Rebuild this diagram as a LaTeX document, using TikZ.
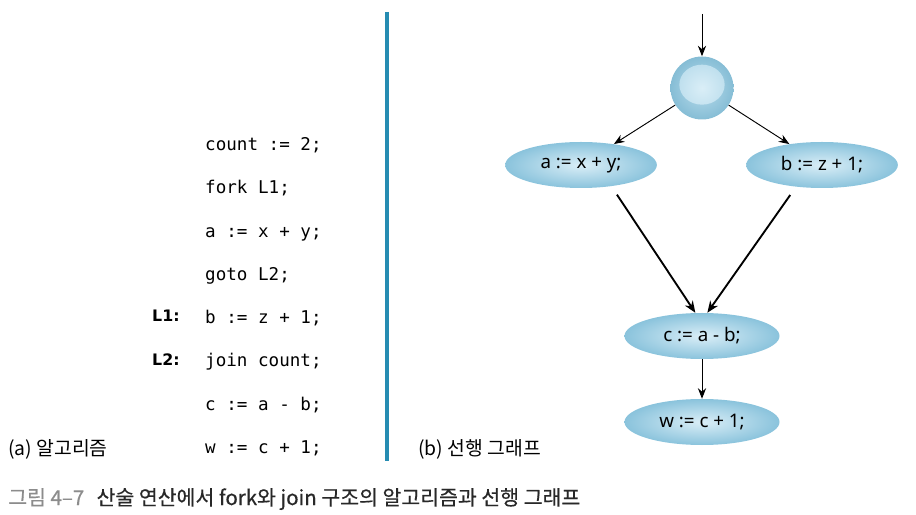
\documentclass[tikz,border=0pt]{standalone}
\usepackage{fontspec}
\setmonofont{DejaVu Sans Mono}
\setsansfont{Noto Sans}
\newfontfamily\krfont{Noto Sans CJK KR}
\newfontfamily\krmed{Noto Sans CJK KR}[FakeBold=0.5]
\newfontfamily\lblfont{DejaVu Sans}
\usetikzlibrary{shapes.geometric,arrows.meta}
\definecolor{divline}{RGB}{38,140,178}
\definecolor{bubin}{RGB}{218,238,247}
\definecolor{bubout}{RGB}{138,195,220}
\definecolor{capgray}{RGB}{140,140,140}
\definecolor{captext}{RGB}{40,40,40}
\tikzset{
	codeline/.style={anchor=base west,inner sep=0pt,font=\ttfamily\fontsize{15}{18}\selectfont},
	lbl/.style={anchor=base west,inner sep=0pt,font=\lblfont\bfseries\fontsize{13.5}{16}\selectfont},
	krlabel/.style={anchor=base west,inner sep=0pt,font=\krfont\fontsize{16.5}{19}\selectfont},
	stmt/.style={ellipse,inner sep=0pt,minimum width=4.55cm,minimum height=1.38cm,
		inner color=bubin,outer color=bubout,font=\sffamily\fontsize{16}{18}\selectfont},
	forknode/.style={circle,minimum size=1.89cm,inner sep=0pt,inner color=bubin!60!bubout,outer color=bubout!97!black,
		path picture={\shade[inner color=bubin,outer color=bubin!55!bubout] ([yshift=0.1cm]path picture bounding box.center) ellipse (0.68cm and 0.6cm);}},
	thinarr/.style={-{Stealth[length=9pt,width=7pt]},line width=0.8pt},
	thickarr/.style={-{Stealth[length=10pt,width=8pt]},line width=1.6pt,shorten <=0.3cm}
}
\begin{document}
\begin{tikzpicture}[x=0.03cm,y=-0.03cm]
		\useasboundingbox (0,0) rectangle (916,515);

		%algorithm
		\node[codeline] (l1) at (205,151) {count := 2;};
		\node[codeline] (l2) at (205,194) {fork L1;};
		\node[codeline] (l3) at (205,238) {a := x + y;};
		\node[codeline] (l4) at (205,281) {goto L2;};
		\node[codeline] (l5) at (205,324) {b := z + 1;};
		\node[codeline] (l6) at (205,367) {join count;};
		\node[codeline] (l7) at (205,411) {c := a - b;};
		\node[codeline] (l8) at (205,454) {w := c + 1;};

		\node[lbl] (lab1) at (152,322) {L1:};
		\node[lbl] (lab2) at (152,366) {L2:};

		\node[krlabel] (capa) at (8,455) {(a) 알고리즘};

		%divider
		\draw[divline,line width=2.6pt] (387,12) -- (387,461);

		%precedence graph
		\coordinate (start) at (702,14);
		\node[forknode] (fork) at (702,88) {};
		\node[stmt] (sa) at (581,165) {a := x + y;};
		\node[stmt] (sb) at (822,165) {b := z + 1;};
		\node[stmt,minimum width=4.65cm] (sc) at (702,336) {c := a - b;};
		\node[stmt,minimum width=4.65cm] (sw) at (702,422) {w := c + 1;};

		\draw[thinarr] (start) -- (fork);
		\draw[thinarr] (fork) -- (sa);
		\draw[thinarr] (fork) -- (sb);
		\draw[thickarr] (sa.-35) -- ([xshift=-0.2cm]sc.north);
		\draw[thickarr] (sb.-140) -- ([xshift=0.16cm]sc.north);
		\draw[thinarr] (sc) -- (sw);

		\node[krlabel] (capb) at (418,455) {(b) 선행 그래프};

		%caption
		\node[krlabel,font=\krmed\fontsize{17.5}{20}\selectfont] (fig) at (8,505)
			{\textcolor{capgray}{그림 4–7}\hspace{0.6em}\textcolor{captext}{산술 연산에서 fork와 join 구조의 알고리즘과 선행 그래프}};

	\end{tikzpicture}
\end{document}
